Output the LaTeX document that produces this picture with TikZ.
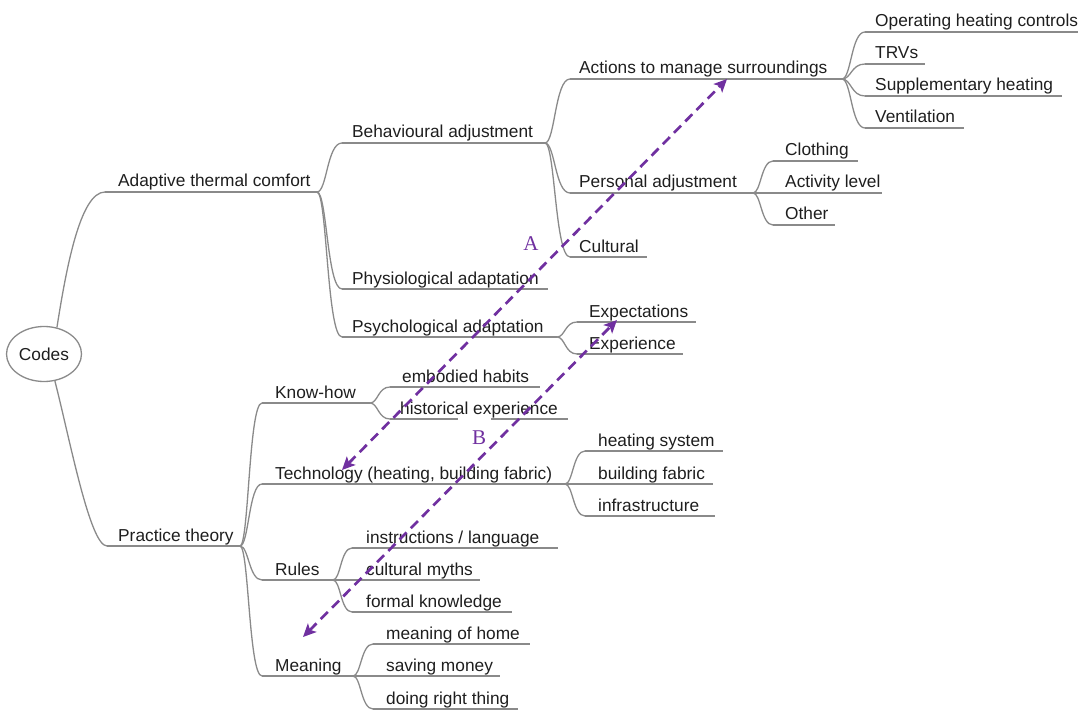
\documentclass[tikz,border=0pt]{standalone}
\usepackage{fontspec}
\setmainfont{Liberation Sans}
\newfontfamily\labelfont{Liberation Serif}
\usetikzlibrary{calc,arrows.meta,shapes.geometric}

\definecolor{branch}{HTML}{8A8A8A}
\definecolor{ink}{HTML}{1E1E1E}
\definecolor{link}{HTML}{7030A0}

\tikzset{
  branchline/.style={draw=branch, line width=1.3pt},
  topicfont/.style={text=ink, font=\fontsize{17.3}{20}\selectfont},
  topictext/.style={topicfont, anchor=base west, inner sep=0pt},
  rootnode/.style={topicfont, ellipse, draw=branch, line width=1.3pt,
                   minimum width=75pt, minimum height=55pt, inner sep=0pt},
  crosslink/.style={draw=link, line width=2.7pt, dash pattern=on 10pt off 6pt,
                    {Stealth[length=13pt,width=12pt,inset=3pt]}-{Stealth[length=13pt,width=12pt,inset=3pt]}},
  linklabel/.style={text=link, font=\labelfont\fontsize{21}{24}\selectfont, inner sep=0pt},
}

% topic: name, underline left x, underline right x, underline y, text x, text
\newcommand\mmtopic[6]{%
  \coordinate (#1-l) at (#2,#4);
  \coordinate (#1-r) at (#3,#4);
  \draw[branchline] (#1-l) -- (#1-r);
  \node[topictext] (#1) at (#5,#4-5) {#6};
}
% curved branch from the end of a parent underline to the start of a child underline
\newcommand\mmbranch[2]{%
  \draw[branchline] (#1-r) .. controls ($(#1-r)!0.4!(#1-r -| #2-l)$)
    and ($(#2-l)!0.6!(#2-l -| #1-r)$) .. (#2-l);
}

\begin{document}
\begin{tikzpicture}[x=1pt,y=-1pt]
\useasboundingbox (0,0) rectangle (1078,711);

% root
\node[rootnode] (codes) at (44,354) {Codes};

% first level
\mmtopic{adapt}{105}{317}{192}{118}{Adaptive thermal comfort}
\mmtopic{practice}{107}{240}{546}{118}{Practice theory}
\draw[branchline] (codes.64) .. controls (66,270) and (80,192) .. (adapt-l);
\draw[branchline] (codes.-68) .. controls (70,440) and (90,546) .. (practice-l);

% adaptive thermal comfort
\mmtopic{behav}{342}{545}{143}{352}{Behavioural adjustment}
\mmtopic{physio}{342}{548}{289}{352}{Physiological adaptation}
\mmtopic{psycho}{342}{557}{337}{352}{Psychological adaptation}
\mmbranch{adapt}{behav}
\mmbranch{adapt}{physio}
\mmbranch{adapt}{psycho}

\mmtopic{actions}{570}{842}{79}{579}{Actions to manage surroundings}
\mmtopic{personal}{570}{753}{193}{579}{Personal adjustment}
\mmtopic{cultural}{570}{647}{257}{579}{Cultural}
\mmbranch{behav}{actions}
\mmbranch{behav}{personal}
\mmbranch{behav}{cultural}

\mmtopic{controls}{865}{1078}{32}{875}{Operating heating controls}
\mmtopic{trvs}{865}{925}{64}{875}{TRVs}
\mmtopic{supp}{865}{1062}{96}{875}{Supplementary heating}
\mmtopic{vent}{865}{964}{128}{875}{Ventilation}
\mmbranch{actions}{controls}
\mmbranch{actions}{trvs}
\mmbranch{actions}{supp}
\mmbranch{actions}{vent}

\mmtopic{clothing}{773}{858}{161}{785}{Clothing}
\mmtopic{activity}{773}{882}{193}{785}{Activity level}
\mmtopic{other}{773}{835}{225}{785}{Other}
\mmbranch{personal}{clothing}
\mmbranch{personal}{activity}
\mmbranch{personal}{other}

\mmtopic{expect}{577}{696}{322}{589}{Expectations}
\mmtopic{exper}{577}{683}{354}{589}{Experience}
\mmbranch{psycho}{expect}
\mmbranch{psycho}{exper}

% practice theory
\mmtopic{knowhow}{262}{370}{403}{275}{Know-how}
\mmtopic{tech}{262}{565}{484}{275}{Technology (heating, building fabric)}
\mmtopic{rules}{262}{333}{580}{275}{Rules}
\mmtopic{meaning}{262}{353}{676}{275}{Meaning}
\mmbranch{practice}{knowhow}
\mmbranch{practice}{tech}
\mmbranch{practice}{rules}
\mmbranch{practice}{meaning}

\mmtopic{habits}{390}{540}{387}{402}{embodied habits}
\mmtopic{history}{390}{568}{419}{400}{historical experience}
\mmbranch{knowhow}{habits}
\mmbranch{knowhow}{history}

\mmtopic{heating}{585}{723}{451}{598}{heating system}
\mmtopic{fabric}{585}{713}{484}{598}{building fabric}
\mmtopic{infra}{585}{715}{516}{598}{infrastructure}
\mmbranch{tech}{heating}
\mmbranch{tech}{fabric}
\mmbranch{tech}{infra}

\mmtopic{instr}{352}{558}{548}{366}{instructions / language}
\mmtopic{myths}{352}{480}{580}{366}{cultural myths}
\mmtopic{formal}{352}{512}{612}{366}{formal knowledge}
\mmbranch{rules}{instr}
\mmbranch{rules}{myths}
\mmbranch{rules}{formal}

\mmtopic{home}{373}{530}{644}{386}{meaning of home}
\mmtopic{money}{373}{500}{676}{386}{saving money}
\mmtopic{right}{373}{518}{709}{386}{doing right thing}
\mmbranch{meaning}{home}
\mmbranch{meaning}{money}
\mmbranch{meaning}{right}

% cross links A and B
\fill[white] (458,417.8) rectangle (491,460);
\node[linklabel] (labA) at (531,244) {A};
\node[linklabel] (labB) at (479,438) {B};

\coordinate (aLow) at (342,470);
\coordinate (aHigh) at (727,79);
\coordinate (bLow) at (303,637);
\coordinate (bHigh) at (617,320);
\draw[crosslink] (aLow) -- (aHigh);
\draw[crosslink] (bLow) -- (bHigh);
\end{tikzpicture}
\end{document}
